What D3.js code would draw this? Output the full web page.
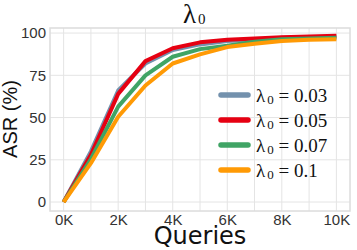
<!DOCTYPE html>
<html>
<head>
<meta charset="utf-8">
<script src="https://cdn.jsdelivr.net/npm/d3@7"></script>
<style>
  html, body { margin: 0; padding: 0; background: #fff; }
  svg { display: block; }
</style>
</head>
<body>
<div id="chart"></div>
<script>
// queries in thousands
const queries = [0, 1, 2, 3, 4, 5, 6, 7, 8, 9, 10];
const asrLambda003 = [0, 30, 66, 82, 90, 93.3, 95.3, 96, 97.2, 97.4, 97.8];
const asrLambda005 = [0, 28, 64, 83.4, 91, 94.5, 96, 96.8, 97.6, 98, 98.4];
const asrLambda007 = [0, 25.5, 56.5, 75, 86, 90.5, 92.5, 94.9, 96.4, 96.8, 97.2];
const asrLambda01 = [0, 23, 50.5, 69, 82, 87.4, 91.7, 93.7, 95.3, 96, 96.4];
const lambdaLabels = ["0.03", "0.05", "0.07", "0.1"];
const xTicks = [0, 2, 4, 6, 8, 10];
const yTicks = [0, 25, 50, 75, 100];

const series = [
  { id: "l003", label: lambdaLabels[0], values: asrLambda003, color: "#7391ad" },
  { id: "l005", label: lambdaLabels[1], values: asrLambda005, color: "#e60012" },
  { id: "l007", label: lambdaLabels[2], values: asrLambda007, color: "#40a465" },
  { id: "l01", label: lambdaLabels[3], values: asrLambda01, color: "#ff9a05" },
];

const width = 357;
const height = 250;
const margin = { top: 28, right: 7, bottom: 39, left: 50 };

const x = d3
  .scaleLinear()
  .domain([-0.5, 10.5])
  .range([margin.left, width - margin.right]);
const y = d3
  .scaleLinear()
  .domain([-5.3, 103])
  .range([height - margin.bottom, margin.top]);

const svg = d3
  .select("#chart")
  .append("svg")
  .attr("width", width)
  .attr("height", height)
  .attr("viewBox", [0, 0, width, height]);

// grid
const gGrid = svg.append("g").attr("class", "grid");
gGrid
  .selectAll(".grid-x")
  .data(queries)
  .join("line")
  .attr("class", "grid-x")
  .attr("x1", (d) => x(d))
  .attr("x2", (d) => x(d))
  .attr("y1", margin.top)
  .attr("y2", height - margin.bottom)
  .attr("stroke", "#e4e4e4")
  .attr("stroke-width", 1);
gGrid
  .selectAll(".grid-y")
  .data(yTicks)
  .join("line")
  .attr("class", "grid-y")
  .attr("x1", margin.left)
  .attr("x2", width - margin.right)
  .attr("y1", (d) => y(d))
  .attr("y2", (d) => y(d))
  .attr("stroke", "#e4e4e4")
  .attr("stroke-width", 1);

// frame
svg
  .append("rect")
  .attr("x", margin.left)
  .attr("y", margin.top)
  .attr("width", width - margin.left - margin.right)
  .attr("height", height - margin.top - margin.bottom)
  .attr("fill", "none")
  .attr("stroke", "#dcdcdc")
  .attr("stroke-width", 1.5);

// axes
const gX = svg
  .append("g")
  .attr("transform", `translate(0,${height - margin.bottom})`)
  .call(
    d3
      .axisBottom(x)
      .tickValues(xTicks)
      .tickSize(0)
      .tickPadding(3)
      .tickFormat((d) => d + "K")
  );
const gY = svg
  .append("g")
  .attr("transform", `translate(${margin.left},0)`)
  .call(d3.axisLeft(y).tickValues(yTicks).tickSize(0).tickPadding(4));

[gX, gY].forEach((g) => {
  g.select(".domain").remove();
  g.selectAll("text")
    .attr("fill", "#333")
    .style("font-family", "'Liberation Sans', Arial, sans-serif")
    .style("font-size", "15px");
});

// lines
const line = d3
  .line()
  .x((d, i) => x(queries[i]))
  .y((d) => y(d));

svg
  .append("g")
  .selectAll("path")
  .data(series, (d) => d.id)
  .join("path")
  .attr("fill", "none")
  .attr("stroke", (d) => d.color)
  .attr("stroke-width", 4)
  .attr("stroke-linejoin", "round")
  .attr("d", (d) => line(d.values));

// title
const title = svg
  .append("text")
  .attr("x", 183)
  .attr("y", 23)
  .attr("fill", "#111")
  .style("font-family", "'Liberation Serif', 'Times New Roman', serif")
  .style("font-size", "27px");
title.append("tspan").text("λ");
title
  .append("tspan")
  .attr("dx", 2)
  .attr("dy", 1)
  .style("font-size", "15px")
  .text("0");

// axis titles
svg
  .append("text")
  .attr("x", 200)
  .attr("y", 244)
  .attr("text-anchor", "middle")
  .attr("fill", "#111")
  .style("font-family", "'DejaVu Sans', sans-serif")
  .style("font-size", "24px")
  .text("Queries");

svg
  .append("text")
  .attr("transform", "translate(17,119) rotate(-90)")
  .attr("text-anchor", "middle")
  .attr("fill", "#111")
  .style("font-family", "'Liberation Sans', Arial, sans-serif")
  .style("font-size", "20px")
  .text("ASR (%)");

// legend
const legend = svg
  .append("g")
  .selectAll("g")
  .data(series, (d) => d.id)
  .join("g")
  .attr("transform", (d, i) => `translate(219,${95 + i * 25})`);

legend
  .append("line")
  .attr("x1", 2)
  .attr("x2", 29)
  .attr("stroke", (d) => d.color)
  .attr("stroke-width", 5.5)
  .attr("stroke-linecap", "round");

const legendText = legend
  .append("text")
  .attr("x", 37)
  .attr("y", 7)
  .attr("fill", "#111")
  .style("font-family", "'Liberation Serif', 'Times New Roman', serif")
  .style("font-size", "19px");
legendText.append("tspan").text("λ");
legendText
  .append("tspan")
  .attr("dx", 2)
  .attr("dy", 2)
  .style("font-size", "13px")
  .text("0");
legendText
  .append("tspan")
  .attr("dy", -2)
  .text((d) => " = " + d.label);
</script>
</body>
</html>
